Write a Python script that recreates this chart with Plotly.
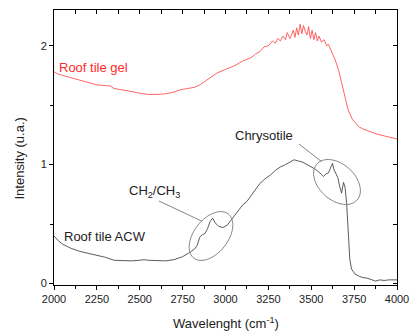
import numpy as np
import plotly.graph_objects as go

# ---- data ----
gel_x = [2000, 2025, 2050, 2075, 2100, 2150, 2200, 2250, 2300, 2330, 2350, 2400, 2450, 2500,
         2550, 2600, 2650, 2700, 2740, 2780, 2820, 2850, 2880, 2910, 2950, 3000, 3050, 3100,
         3150, 3175, 3200, 3225, 3250, 3275, 3290, 3305, 3320, 3335, 3350, 3360, 3375, 3385,
         3395, 3405, 3415, 3425, 3435, 3445, 3455, 3465, 3475, 3485, 3495, 3505, 3515, 3525,
         3535, 3545, 3560, 3575, 3590, 3600,
         3620, 3640, 3660, 3680, 3700, 3715, 3740, 3775, 3800, 3825, 3850, 3875, 3900, 3925,
         3950, 3975, 4000]
gel_y = [1.78, 1.76, 1.75, 1.74, 1.73, 1.71, 1.69, 1.67, 1.665, 1.66, 1.64, 1.63, 1.615, 1.60,
         1.59, 1.59, 1.595, 1.61, 1.63, 1.64, 1.65, 1.67, 1.70, 1.73, 1.77, 1.80, 1.83, 1.87,
         1.90, 1.93, 1.95, 1.99, 2.00, 2.04, 2.02, 2.06, 2.04, 2.08, 2.05, 2.11, 2.06, 2.09,
         2.13, 2.07, 2.15, 2.09, 2.18, 2.10, 2.17, 2.12, 2.09, 2.16, 2.06, 2.13, 2.05, 2.11,
         2.04, 2.08, 2.03, 2.05, 2.00, 2.01,
         1.95, 1.88, 1.79, 1.67, 1.55, 1.46, 1.38, 1.32, 1.30, 1.285, 1.27, 1.26, 1.25, 1.24,
         1.235, 1.225, 1.215]

acw_x = [2000, 2025, 2050, 2075, 2100, 2150, 2200, 2250, 2300, 2350, 2400, 2450, 2500, 2525,
         2550, 2600, 2650, 2700, 2750, 2790, 2820, 2835, 2850, 2865, 2880, 2895, 2910, 2925,
         2940, 2960, 2985, 3010, 3040, 3075, 3100, 3125, 3150, 3175, 3200, 3230, 3260, 3290,
         3320, 3350, 3375, 3400, 3425, 3450, 3475, 3500, 3525, 3550, 3570, 3585, 3600, 3612,
         3624, 3632, 3642, 3655, 3665, 3677, 3688, 3697, 3706, 3716, 3725, 3735, 3755, 3780,
         3800, 3825, 3850, 3875, 3900, 3925, 3950, 3975, 4000]
acw_y = [0.40, 0.36, 0.33, 0.31, 0.295, 0.27, 0.255, 0.24, 0.22, 0.195, 0.19, 0.19, 0.195, 0.20,
         0.195, 0.19, 0.19, 0.20, 0.225, 0.26, 0.29, 0.32, 0.39, 0.41, 0.42, 0.46, 0.52, 0.55,
         0.51, 0.48, 0.47, 0.49, 0.55, 0.62, 0.66, 0.69, 0.74, 0.79, 0.84, 0.88, 0.91, 0.95,
         0.98, 1.00, 1.02, 1.04, 1.03, 1.02, 1.00, 0.98, 0.96, 0.93, 0.90, 0.92, 0.93, 0.97,
         1.01, 0.96, 0.93, 0.89, 0.82, 0.76, 0.85, 0.81, 0.68, 0.40, 0.20, 0.12, 0.08, 0.06,
         0.05, 0.045, 0.03, 0.02, 0.03, 0.025, 0.03, 0.03, 0.03]

x_range = [2000, 4000]
y_range = [-0.013, 2.30]
x_ticks = [2000, 2250, 2500, 2750, 3000, 3250, 3500, 3750, 4000]
y_ticks = [0, 1, 2]

FONT = "Arial, Liberation Sans, sans-serif"

fig = go.Figure()
fig.add_trace(go.Scatter(x=gel_x, y=gel_y, mode="lines",
                         line=dict(color="#ff5252", width=0.9), showlegend=False))
fig.add_trace(go.Scatter(x=acw_x, y=acw_y, mode="lines",
                         line=dict(color="#4a4a4a", width=0.9), showlegend=False))
# invisible trace to hold the mirrored (top/right) axes
fig.add_trace(go.Scatter(x=gel_x, y=gel_y, mode="lines", xaxis="x2", yaxis="y2",
                         line=dict(width=0), opacity=0, hoverinfo="skip", showlegend=False))

# plot area in pixels (for placing annotations)
W, H = 409, 331
ml, mr, mt, mb = 54, 12, 10, 46
pw, ph = W - ml - mr, H - mt - mb


def px2data(px, py):
    x = x_range[0] + (px - ml) / pw * (x_range[1] - x_range[0])
    y = y_range[0] + (H - mb - py) / ph * (y_range[1] - y_range[0])
    return x, y


def px2paper(px, py):
    return (px - ml) / pw, (H - mb - py) / ph


def ellipse_path(cx, cy, a, b, ang_deg, n=60):
    t = np.linspace(0, 2 * np.pi, n)
    ang = np.deg2rad(ang_deg)
    px = cx + a * np.cos(t) * np.cos(ang) - b * np.sin(t) * np.sin(ang)
    py = cy - (a * np.cos(t) * np.sin(ang) + b * np.sin(t) * np.cos(ang))
    pts = [px2data(u, v) for u, v in zip(px, py)]
    return "M " + " L ".join(f"{x:.2f},{y:.4f}" for x, y in pts) + " Z"


shapes = [
    dict(type="path", path=ellipse_path(211, 236, 28, 17, 52), xref="x", yref="y",
         line=dict(color="#858585", width=1)),
    dict(type="path", path=ellipse_path(337, 182, 27, 18, -42), xref="x", yref="y",
         line=dict(color="#858585", width=1)),
]
for (p0, p1) in [((159, 201), (201.5, 221)), ((299, 144), (321.5, 161.5))]:
    x0, y0 = px2data(*p0)
    x1, y1 = px2data(*p1)
    shapes.append(dict(type="line", x0=x0, y0=y0, x1=x1, y1=y1, xref="x", yref="y",
                       line=dict(color="#858585", width=1)))

annotations = []
for text, (px, py), col in [("Roof tile gel", (57, 67), "#ff2a2a"),
                            ("Roof tile ACW", (62, 236), "#222222"),
                            ("CH<sub>2</sub>/CH<sub>3</sub>", (127, 191), "#222222"),
                            ("Chrysotile", (233, 135), "#222222")]:
    x, y = px2data(px, py)
    annotations.append(dict(text=text, x=x, y=y, xref="x", yref="y", xanchor="left",
                            yanchor="middle", showarrow=False,
                            font=dict(family=FONT, size=13, color=col)))

# axis titles placed as paper annotations to match the reference position
tx, ty = px2paper(225.5, 323)
annotations.append(dict(text="Wavelenght (cm<sup>-1</sup>)", x=tx, y=ty, xref="paper", yref="paper",
                        xanchor="center", yanchor="middle", showarrow=False,
                        font=dict(family=FONT, size=13, color="#222")))
tx, ty = px2paper(19.5, 159)
annotations.append(dict(text="Intensity (u.a.)", x=tx, y=ty, xref="paper", yref="paper",
                        xanchor="center", yanchor="middle", showarrow=False, textangle=-90,
                        font=dict(family=FONT, size=13, color="#222")))

axis_common = dict(showline=True, linecolor="black", linewidth=1, showgrid=False,
                   zeroline=False, tickcolor="black", automargin=False,
                   tickfont=dict(family=FONT, size=11, color="#222"))

fig.update_layout(
    width=W, height=H,
    margin=dict(l=ml, r=mr, t=mt, b=mb, autoexpand=False),
    paper_bgcolor="white", plot_bgcolor="white",
    shapes=shapes, annotations=annotations,
    xaxis=dict(range=x_range, tickvals=x_ticks, ticks="outside", ticklen=4,
               ticklabeloverflow="allow",
               minor=dict(dtick=125, tick0=2000, ticks="outside", ticklen=2.5, tickcolor="black"),
               **axis_common),
    yaxis=dict(range=y_range, tickvals=y_ticks, ticks="outside", ticklen=4,
               minor=dict(dtick=0.5, tick0=0, ticks="outside", ticklen=3, tickcolor="black"),
               **axis_common),
    xaxis2=dict(range=x_range, overlaying="x", side="top", anchor="y", ticks="inside",
                tick0=2000, dtick=125, ticklen=4, showticklabels=False, **axis_common),
    yaxis2=dict(range=y_range, overlaying="y", side="right", anchor="x", ticks="inside",
                tick0=0, dtick=0.5, ticklen=4, showticklabels=False, **axis_common),
)

fig.write_html("out.html", config={"displayModeBar": False},
               post_script="document.body.style.margin='0';document.body.style.overflow='hidden';")
